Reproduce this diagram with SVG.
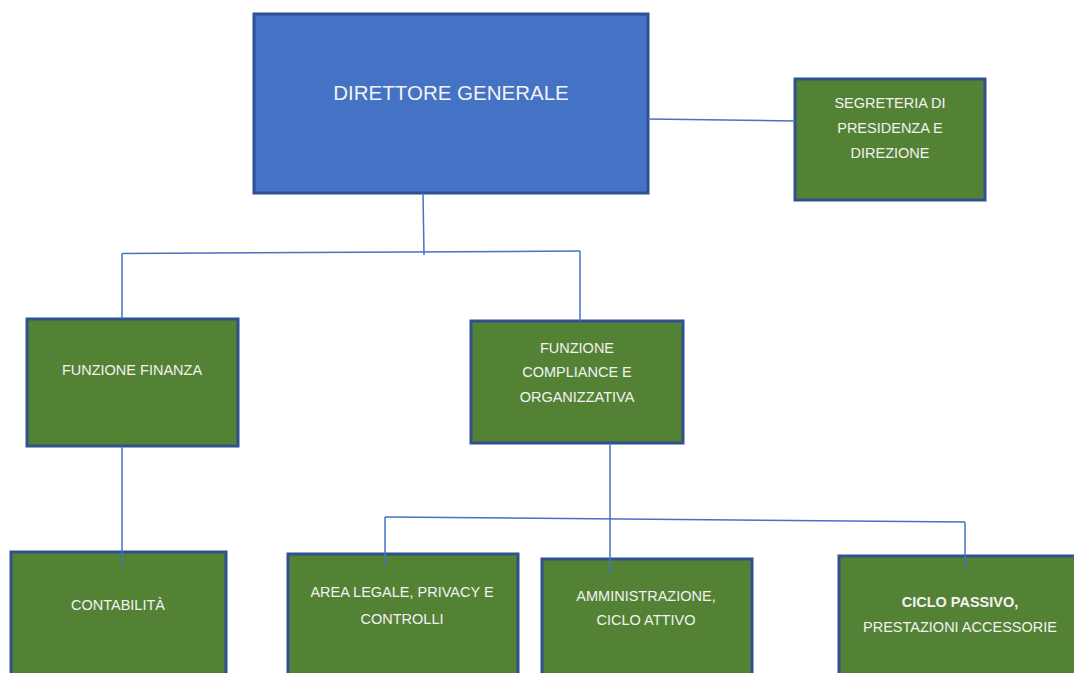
<svg xmlns="http://www.w3.org/2000/svg" width="1074" height="673" viewBox="0 0 1074 673">
<style>
.box{fill:#548235;stroke:#2F528F;stroke-width:3}
.top{fill:#4472C4;stroke:#2F528F;stroke-width:3}
.t{font-family:"Liberation Sans",Arial,sans-serif;font-size:14.5px;fill:#F2F2F2;text-anchor:middle}
.big{font-size:20.5px}
.b{font-weight:bold}
.c{stroke:#4472C4;stroke-width:1.5;fill:none}
</style>
<rect width="1074" height="673" fill="#FFFFFF"/>
<g id="n-dg"><rect class="top" x="254" y="14" width="394" height="179"/><text class="t big" x="451" y="100">DIRETTORE GENERALE</text></g>
<g id="n-segreteria"><rect class="box" x="795" y="79" width="190" height="121"/><text class="t" x="890" y="108">SEGRETERIA DI</text><text class="t" x="890" y="133">PRESIDENZA E</text><text class="t" x="890" y="158">DIREZIONE</text></g>
<g id="n-finanza"><rect class="box" x="27" y="319" width="211" height="127"/><text class="t" x="132" y="375">FUNZIONE FINANZA</text></g>
<g id="n-compliance"><rect class="box" x="471" y="321" width="212" height="122"/><text class="t" x="577" y="353">FUNZIONE</text><text class="t" x="577" y="377">COMPLIANCE E</text><text class="t" x="577" y="402">ORGANIZZATIVA</text></g>
<g id="n-contabilita"><rect class="box" x="11" y="552" width="215" height="125"/><text class="t" x="118" y="610">CONTABILITÀ</text></g>
<g id="n-legale"><rect class="box" x="288" y="554" width="230" height="123"/><text class="t" x="402" y="597">AREA LEGALE, PRIVACY E</text><text class="t" x="402" y="624">CONTROLLI</text></g>
<g id="n-amministrazione"><rect class="box" x="542" y="559" width="210" height="118"/><text class="t" x="646" y="601">AMMINISTRAZIONE,</text><text class="t" x="646" y="625">CICLO ATTIVO</text></g>
<g id="n-ciclo"><rect class="box" x="839" y="556" width="240" height="121"/><text class="t b" x="960" y="607">CICLO PASSIVO,</text><text class="t" x="960" y="632">PRESTAZIONI ACCESSORIE</text></g>
<g id="connectors">
<path class="c" d="M648 119 L795 121"/>
<path class="c" d="M423 193 L424 255"/>
<path class="c" d="M122 253.5 L580 251"/>
<path class="c" d="M122 253.5 L122 319"/>
<path class="c" d="M580 251 L580 321"/>
<path class="c" d="M122 446 L122 566"/>
<path class="c" d="M610 443 L610 574"/>
<path class="c" d="M385 517 L965 522"/>
<path class="c" d="M385 517 L385 566"/>
<path class="c" d="M965 522 L965 567"/>
</g>
</svg>
